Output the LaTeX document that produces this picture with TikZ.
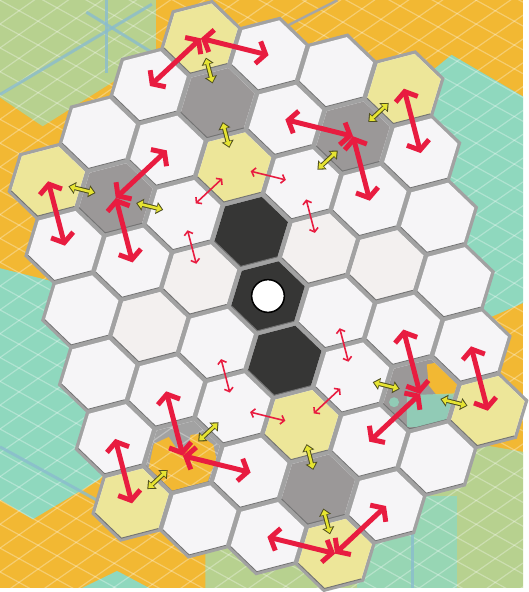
\documentclass[tikz,border=0pt]{standalone}
\usetikzlibrary{arrows.meta,calc}

\definecolor{bgorange}{RGB}{242,184,51}
\definecolor{bgteal}{RGB}{143,216,190}
\definecolor{bggreen}{RGB}{183,209,143}
\definecolor{bgline}{RGB}{138,188,206}
\definecolor{gapgrey}{RGB}{162,162,162}
\definecolor{cellwhite}{RGB}{246,245,247}
\definecolor{celltint}{RGB}{243,240,239}
\definecolor{cellyellow}{RGB}{237,230,153}
\definecolor{cellgrey}{RGB}{155,152,152}
\definecolor{celldark}{RGB}{54,54,53}
\definecolor{arrowred}{RGB}{232,28,64}
\definecolor{arrowyellow}{RGB}{230,228,50}
\definecolor{arrowedge}{RGB}{78,78,30}

% one cell of the board, in grid units
\newcommand\hexshape[1]{(#1/3,#1/3) -- (-#1/3,2*#1/3) -- (-2*#1/3,#1/3) -- (-#1/3,-#1/3) -- (#1/3,-2*#1/3) -- (2*#1/3,-#1/3) -- cycle}
\newcommand\cell[3]{%
  \fill[#3, shift={(#1,#2)}] \hexshape{0.93};
  \draw[black!55, line width=0.8pt, shift={(#1,#2)}] (0.31,-0.62) -- (0.62,-0.31) -- (0.31,0.31);}
% light cross lines of the backdrop, in pixel units
\newcommand\bggrid{%
  \foreach \k in {-13,...,25} \draw[white, opacity=0.3, line width=1.2pt] (0,\k*24) -- (527,\k*24+290);
  \foreach \k in {0,...,40} \draw[white, opacity=0.3, line width=1.2pt] (0,\k*24) -- (527,\k*24-369);}

\tikzset{
  bigmove/.style={draw=arrowred, line width=5pt, {Straight Barb[length=8pt,width=23pt]}-{Straight Barb[length=8pt,width=23pt]}},
  smallmove/.style={draw=arrowred, line width=1.6pt, {Straight Barb[length=3.5pt,width=9pt]}-{Straight Barb[length=3.5pt,width=9pt]}},
  swapback/.style={draw=arrowedge, line width=4.6pt, {Triangle[length=7pt,width=12pt]}-{Triangle[length=7pt,width=12pt]}},
  swapfront/.style={draw=arrowyellow, line width=2.6pt, {Triangle[length=5pt,width=8pt]}-{Triangle[length=5pt,width=8pt]}},
}

\begin{document}
\begin{tikzpicture}
  % backdrop
  \begin{scope}[x=1pt,y=-1pt]
    \clip (0,0) rectangle (527,592);
    \fill[bgorange] (0,0) rectangle (527,592);
    \fill[bggreen] (0,0) -- (157,0) -- (157,55) -- (43,127) -- (0,98) -- cycle;
    \fill[bgteal] (455,55) -- (527,97) -- (527,305) -- (470,330) -- (430,250) -- (400,100) -- cycle;
    \fill[bgteal] (0,270) -- (60,285) -- (110,300) -- (110,470) -- (100,483) -- (33,523) -- (0,503) -- cycle;
    \fill[bgteal] (83,592) -- (118,575) -- (150,592) -- cycle;
    \fill[bggreen] (207,592) -- (207,540) -- (330,470) -- (440,440) -- (527,455) -- (527,592) -- cycle;
    \fill[bgteal, opacity=0.8] (360,500) rectangle (460,592);
    \bggrid
    \draw[bgline, line width=3pt, opacity=0.8] (107,0) -- (107,73);
    \draw[bgline, line width=3pt, opacity=0.8] (153,4) -- (0,95);
    \draw[bgline, line width=3pt, opacity=0.8] (87,12) -- (157,55);
    \draw[gray!70, line width=2.5pt] (285,28) -- (340,0);
    \draw[bgline, line width=3pt, opacity=0.8] (0,450) -- (100,505);
    \draw[bgline, line width=3pt, opacity=0.8] (416,440) -- (416,592);
  \end{scope}

  % board
  \begin{scope}[shift={(270pt,-298pt)}, x={(16.9pt,-64.9pt)}, y={(68.2pt,-16.9pt)}]
    \foreach \j in {-3,...,3} {
      \pgfmathtruncatemacro\ilo{max(-4,-4-\j)}
      \pgfmathtruncatemacro\ihi{min(4,4-\j)}
      \foreach \i in {\ilo,...,\ihi} {
        \coordinate (h\i_\j) at (\i,\j);
        \filldraw[gapgrey, line width=2pt, shift={(\i,\j)}] \hexshape{1};
      }
    }
    \foreach \j in {-3,...,3} {
      \pgfmathtruncatemacro\ilo{max(-4,-4-\j)}
      \pgfmathtruncatemacro\ihi{min(4,4-\j)}
      \foreach \i in {\ilo,...,\ihi} \cell{\i}{\j}{cellwhite};
    }
    \foreach \i/\j in {0/-1,1/-2,-1/1,-1/2} \cell{\i}{\j}{celltint};
    \foreach \i/\j in {-4/0,4/0,-2/0,2/0,-1/-3,1/3,-4/3,4/-3} \cell{\i}{\j}{cellyellow};
    \foreach \i/\j in {-3/0,3/0,-1/-2,-3/2,1/2} \cell{\i}{\j}{cellgrey};
    \foreach \i in {-1,0,1} \cell{\i}{0}{celldark};

    % broken cell
    \begin{scope}
      \clip[shift={(1,2)}] \hexshape{0.93};
      \begin{scope}[reset cm, x=1pt, y=-1pt]
        \fill[bgorange] (430,367) -- (445,364) -- (462,385) -- (458,398) -- (440,398) -- (432,388) -- cycle;
        \fill[bgteal, opacity=0.8] (410,398) -- (462,396) -- (455,430) -- (410,430) -- cycle;
        \fill[bgteal, opacity=0.8] (397,405) circle (5);
      \end{scope}
    \end{scope}
    % empty cell
    \begin{scope}
      \clip[shift={(3,-2)}] \hexshape{0.93};
      \fill[gapgrey, shift={(3,-2)}] \hexshape{1};
      \begin{scope}[reset cm, x=1pt, y=-1pt]
        \fill[bgorange] (150,470) -- (155,447) -- (170,440) -- (178,452) -- (190,450) -- (192,438)
          -- (200,437) -- (215,448) -- (218,462) -- (208,488) -- (175,496) -- (152,485) -- cycle;
        \bggrid
      \end{scope}
    \end{scope}

    \fill[white] (h0_0) circle (16pt);
    \draw[black, line width=1.5pt] (h0_0) circle (16.5pt);

    % small red moves
    \foreach \p/\q in {-2_0/-1_-1, -2_0/-2_1, -2_1/-1_1, -1_-1/0_-1, 0_1/1_1, 1_-1/2_-1, 2_0/1_1, 2_0/2_-1}
      \draw[smallmove] ($(h\p)!0.24!(h\q)$) -- ($(h\p)!0.76!(h\q)$);
    % yellow swaps
    \foreach \p/\q in {-4_0/-3_0, -3_0/-2_0, -1_-3/-1_-2, -1_-2/-1_-1, -3_2/-4_3, -3_2/-2_1,
                       1_2/1_1, 1_2/1_3, 3_-2/2_-1, 3_-2/4_-3, 3_0/2_0, 3_0/4_0} {
      \draw[swapback] ($(h\p)!0.3!(h\q)$) -- ($(h\p)!0.7!(h\q)$);
      \draw[swapfront] ($(h\p)!0.32!(h\q)$) -- ($(h\p)!0.68!(h\q)$);
    }
    % big red moves
    \foreach \p/\q in {-4_0/-3_-1, -4_0/-4_1, -4_3/-3_3, -3_2/-3_1, -3_2/-2_2, -1_-3/0_-3, -1_-2/-2_-1,
                       -1_-2/0_-2, 1_2/0_2, 1_2/2_1, 1_3/0_3, 3_-2/2_-2, 3_-2/3_-1, 4_-3/3_-3, 4_0/4_-1, 4_0/3_1}
      \draw[bigmove] (h\p) -- (h\q);
  \end{scope}
\end{tikzpicture}
\end{document}
